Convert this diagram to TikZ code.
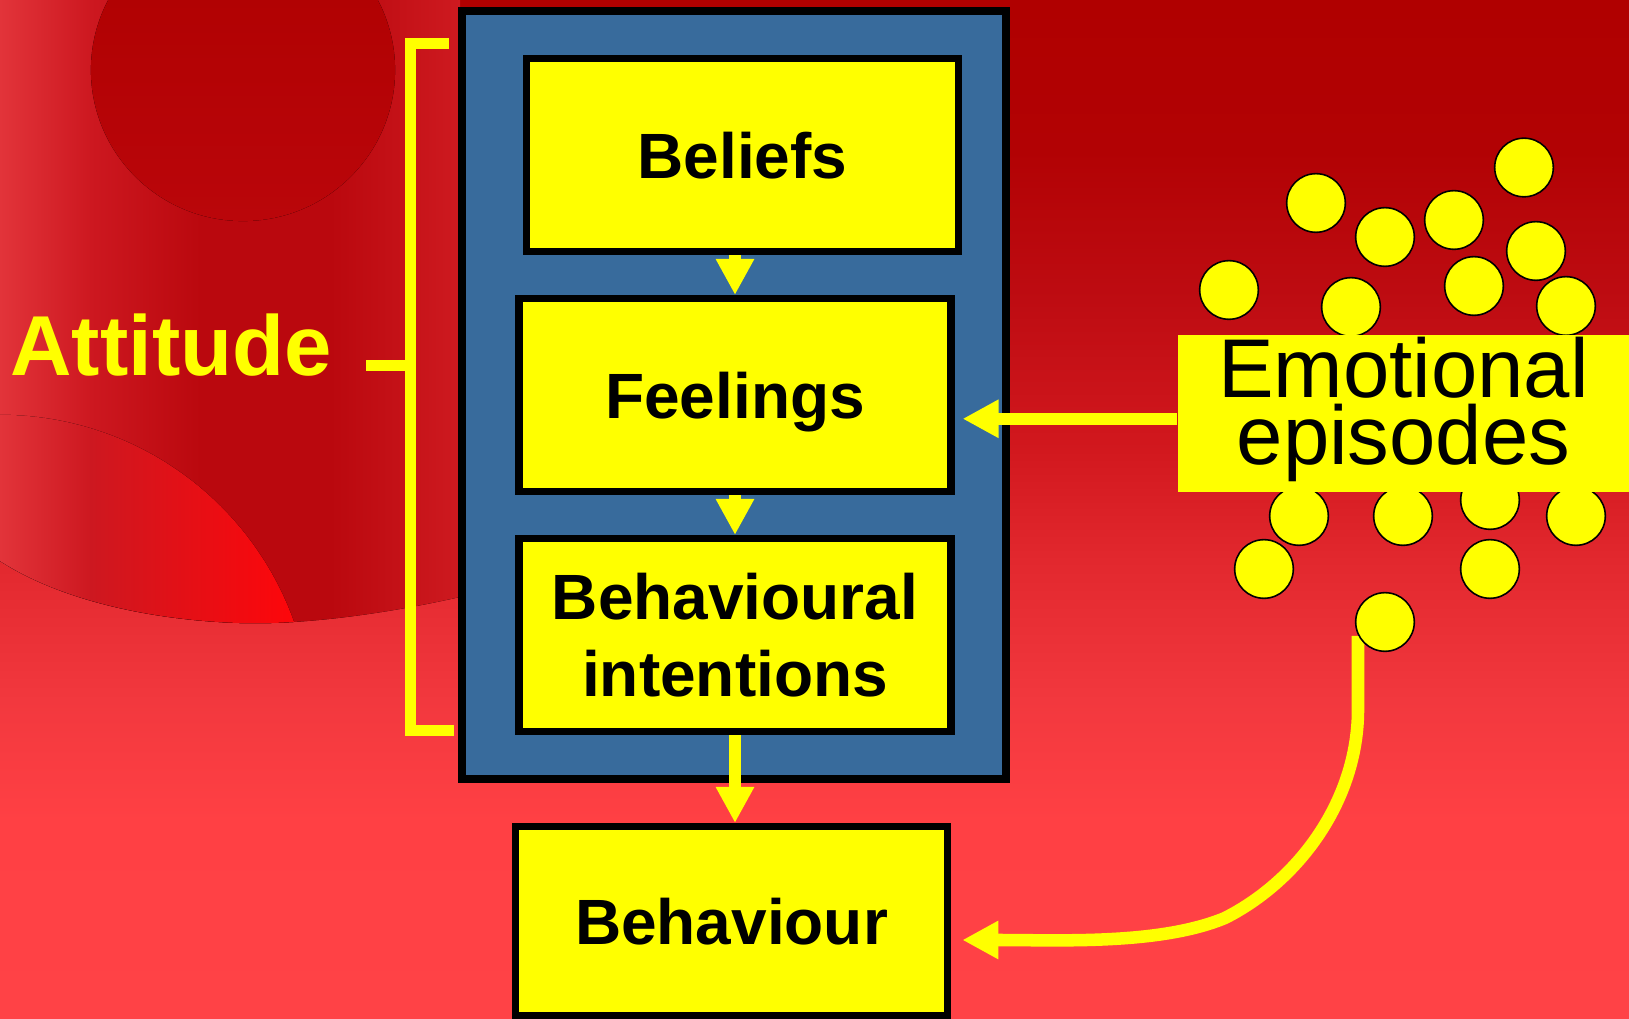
\documentclass[tikz,border=0pt]{standalone}
\usepackage{fontspec}
\setmainfont{Liberation Sans}
\usetikzlibrary{arrows.meta, calc}

\definecolor{panelblue}{RGB}{56,107,156}
\definecolor{hiyellow}{RGB}{255,255,0}
\definecolor{wash0}{RGB}{255,66,70}
\definecolor{wash1}{RGB}{255,64,68}
\definecolor{wash2}{RGB}{242,56,62}
\definecolor{wash3}{RGB}{226,40,46}
\definecolor{wash4}{RGB}{210,24,30}
\definecolor{wash5}{RGB}{190,12,18}
\definecolor{wash6}{RGB}{178,2,4}
\definecolor{wash7}{RGB}{176,0,0}
\definecolor{blob0}{RGB}{226,52,58}
\definecolor{blob1}{RGB}{205,24,32}
\definecolor{blob2}{RGB}{186,8,14}
\definecolor{blob3}{RGB}{206,26,32}
\definecolor{spot1}{RGB}{255,6,10}
\definecolor{cap0}{RGB}{174,0,0}
\definecolor{cap1}{RGB}{186,6,10}

\tikzset{
    stage/.style={draw=black, line width=2.13pt, fill=hiyellow, inner sep=0pt,
        minimum width=4.32cm, minimum height=1.925cm, align=center, text depth=0pt,
        font=\fontsize{18.2}{21.8}\selectfont\bfseries},
    panel/.style={draw=black, line width=2.28pt, fill=panelblue},
    flow/.style={draw=hiyellow, line width=3.56pt, -{Triangle[length=3.6mm, width=3.6mm]}},
    bubble/.style={circle, draw=black, line width=0.45pt, fill=hiyellow,
        minimum size=5.86mm, inner sep=0pt},
    bracket/.style={draw=hiyellow, line width=3.13pt},
    emo/.style={fill=hiyellow, minimum width=4.51cm, inner xsep=0pt, inner ysep=0.74pt,
        align=center, text depth=7.23pt, font=\fontsize{23.7}{18.8}\selectfont},
    attlabel/.style={text=hiyellow, inner sep=0pt, text depth=0pt,
        font=\fontsize{24.2}{29}\selectfont\bfseries}
}

\begin{document}
\begin{tikzpicture}[x=0.01cm, y=-0.01cm]
    \useasboundingbox (0,0) rectangle (1629,1019);
    % red backdrop
    \foreach \ya/\yb/\ca/\cb in {0/150/wash7/wash6, 150/300/wash6/wash5, 300/450/wash5/wash4,
        450/560/wash4/wash3, 560/700/wash3/wash2, 700/820/wash2/wash1, 820/1019/wash1/wash0}
        \fill[top color=\ca, bottom color=\cb] (0,\ya) rectangle (1629,\yb+1);
    \begin{scope}
    \clip (0,0) -- (460,0) -- (460,597) .. controls (380,615) and (300,625) .. (239,623)
        .. controls (150,620) and (60,600) .. (0,561) -- cycle;
    \foreach \xa/\xb/\ca/\cb in {0/90/blob0/blob1, 90/200/blob1/blob2, 200/330/blob2/blob2, 330/460/blob2/blob3}
        \fill[left color=\ca, right color=\cb] (\xa,0) rectangle (\xb+1,640);
    \begin{scope}
    \clip (0,727) circle [radius=3.12cm];
    \fill[left color=blob0, right color=blob1] (0,400) rectangle (91,640);
    \fill[left color=blob1, right color=spot1] (90,400) rectangle (300,640);
    \end{scope}
    \fill[top color=cap0, bottom color=cap1] (243,70) ellipse [x radius=1.52cm, y radius=1.51cm];
    \end{scope}

    % bracket
    \coordinate (brtop) at (449,43.5);
    \coordinate (brbot) at (454,730.5);
    \coordinate (brmid) at (410.5,366);
    \draw[bracket] (brtop) -- (410.5,43.5) -- (410.5,730.5) -- (brbot);
    \draw[bracket] (366,366) -- (brmid);
    \node[attlabel] (att) at (171,345) {Attitude};

    \draw[panel] (462,11) rectangle (1006,779);
    \node[stage] (belief) at (742.5,155) {Beliefs};
    \node[stage] (feel) at (735,395) {Feelings};
    \node[stage] (intent) at (735,635) {Behavioural\\intentions};
    \node[stage, minimum height=1.885cm] (behave) at (731.5,921) {Behaviour};
    \draw[flow] (belief.south -| feel.north) -- (feel.north);
    \draw[flow] (feel.south) -- (intent.north);
    \draw[flow] (intent.south) -- (intent.south |- behave.north);

    \coordinate (drop) at (1358,636);
    \draw[flow] (drop) -- (1358,712) .. controls (1357,800) and (1300,880) .. (1225,918)
        .. controls (1160,945) and (1060,940) .. ([shift={(11,19)}]behave.east);

    \foreach \cx/\cy [count=\i] in {1524/167.5, 1316/203, 1385/237, 1454/220, 1536/251, 1229/290,
        1351/307, 1474/286, 1566/306, 1299/516, 1403/516, 1490/500, 1576/516, 1264/569, 1490/569, 1385/622}
        \node[bubble] (ep\i) at (\cx,\cy) {};

    \node[emo] (emo) at (1403.5,413.5) {Emotional\\episodes};
    \draw[flow] ([yshift=-1.5pt]emo.west) -- ([xshift=2.2pt, yshift=-1.5pt]emo.west -| feel.east);
\end{tikzpicture}
\end{document}
